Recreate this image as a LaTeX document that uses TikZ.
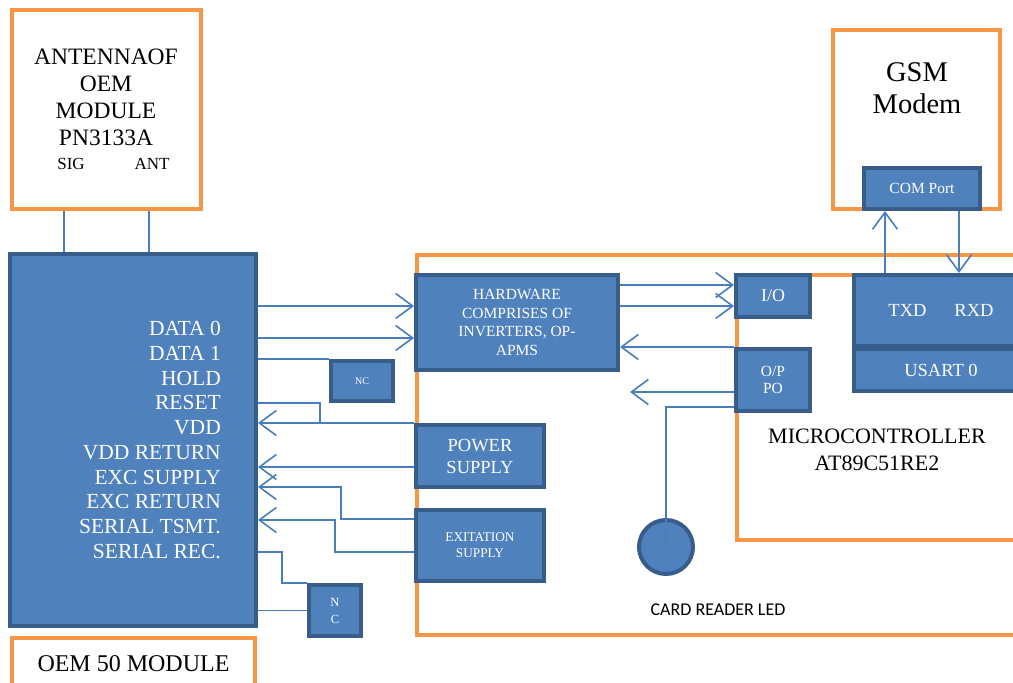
\documentclass[tikz,border=0pt]{standalone}
\usepackage{fontspec}
\setmainfont{Liberation Serif}
\newfontfamily\calib{Carlito}
\usetikzlibrary{arrows.meta}
\definecolor{bfill}{HTML}{4F81BD}
\definecolor{bdark}{HTML}{385D8A}
\definecolor{oline}{HTML}{F79646}
\definecolor{cline}{HTML}{4A7EBB}
\tikzset{
  blk/.style={shape=rectangle,draw=bdark,fill=bfill,line width=4pt,text=white,inner sep=0pt,align=center},
  obox/.style={shape=rectangle,draw=oline,line width=4.5pt,fill=white,inner sep=0pt,align=center},
  wire/.style={draw=cline,line width=1.6pt},
  arr/.style={wire,-{Straight Barb[length=17pt,width=25pt]}},
  fs/.style={font=\fontsize{#1}{#1}\selectfont}
}
\begin{document}
\begin{tikzpicture}[x=1pt,y=-1pt]
                \useasboundingbox (0,0) rectangle (1013,683);

                % frames
                \node[obox,minimum width=611,minimum height=380] (frame) at (722.5,445) {};
                \node[obox,minimum width=291,minimum height=265] (mcu) at (882.5,407.5) {};
                \node[obox,minimum width=189,minimum height=199] (ant) at (106.5,109.5) {};
                \node[obox,minimum width=243,minimum height=52,fs=24] (oem50) at (133.5,664) {OEM 50 MODULE};
                \node[obox,minimum width=167,minimum height=179] (gsm) at (916.5,119.5) {};

                % texts
                \node[align=center,font=\fontsize{23.5}{27}\selectfont] (anttext) at (106,97.5) {ANTENNAOF\\OEM\\MODULE\\PN3133A};
                \node[fs=17] (sig) at (71,164) {SIG};
                \node[fs=17] (antlbl) at (152,164) {ANT};
                \node[align=center,font=\fontsize{28.5}{32}\selectfont] (gsmtext) at (917,88) {GSM\\Modem};
                \node[align=center,font=\fontsize{22}{27}\selectfont] (mcutext) at (877,449.5) {MICROCONTROLLER\\AT89C51RE2};
                \node[font=\calib\fontsize{18}{20}\selectfont] (ledtext) at (718,610) {CARD READER LED};

                % blocks
                \node[blk,minimum width=246,minimum height=372] (oem) at (133,440) {};
                \node[text=white,align=right,anchor=east,inner sep=0pt,font=\fontsize{21.5}{24.67}\selectfont] (pins) at (221,440)
                  {DATA 0\\DATA 1\\HOLD\\RESET\\VDD\\VDD RETURN\\EXC SUPPLY\\EXC RETURN\\SERIAL TSMT.\\SERIAL REC.};
                \node[blk,minimum width=202,minimum height=95,font=\fontsize{15.5}{18.5}\selectfont] (hw) at (517,322.5) {HARDWARE\\COMPRISES OF\\INVERTERS, OP-\\APMS};
                \node[blk,minimum width=74,minimum height=42,fs=18] (io) at (773,296) {I/O};
                \node[blk,minimum width=74,minimum height=62,font=\fontsize{15.5}{17}\selectfont] (op) at (773,380) {O/P\\PO};
                \node[blk,minimum width=174,minimum height=42,fs=18.5] (usart) at (941,370) {USART 0};
                \node[blk,minimum width=174,minimum height=71,fs=18.5] (txrx) at (941,310.5) {TXD\hspace{28pt}RXD};
                \node[blk,minimum width=116,minimum height=41,fs=15.5] (com) at (922,188.5) {COM Port};
                \node[blk,minimum width=128,minimum height=62,font=\fontsize{18.5}{22}\selectfont] (ps) at (480,456) {POWER\\SUPPLY};
                \node[blk,minimum width=128,minimum height=71,font=\fontsize{13.3}{16}\selectfont] (exc) at (480,545.5) {EXITATION\\SUPPLY};
                \node[blk,minimum width=62,minimum height=40,fs=10] (nc1) at (362,381) {NC};
                \node[blk,minimum width=52,minimum height=51,font=\fontsize{12.5}{17}\selectfont] (nc2) at (335,610.5) {N\\C};
                \node[blk,shape=circle,minimum size=54] (led) at (666,547) {};

                % connectors
                \coordinate (rj) at (320,423);
                \coordinate (opfree) at (630,392);
                \draw [wire] (ant.south -| 64,0) -- (oem.north -| 64,0);
                \draw [wire] (ant.south -| 149,0) -- (oem.north -| 149,0);
                \draw [arr] (oem.east |- 0,306) -- (hw.west |- 0,306);
                \draw [arr] (oem.east |- 0,338) -- (hw.west |- 0,338);
                \draw [wire] (oem.east |- nc1.north) -- (nc1.north west);
                \draw [wire] (oem.east |- 0,403) -| (rj);
                \draw [arr] (ps.north west) -- (oem.east |- ps.north);
                \draw [arr] (ps.west |- 0,467) -- (oem.east |- 0,467);
                \draw [arr] (exc.west |- 0,519) -- (341,519) |- (oem.east |- 0,487);
                \draw [arr] (exc.west |- 0,552) -- (335,552) |- (oem.east |- 0,520);
                \draw [wire] (oem.east |- 0,552) -| (282,583) -- (nc2.north west);
                \draw [wire] (oem.east |- nc2.west) -- (nc2.west);
                \draw [arr] (hw.east |- 0,285) -- (io.west |- 0,285);
                \draw [arr] (hw.east |- 0,306) -- (io.west |- 0,306);
                \draw [arr] (op.north west) -- (hw.east |- op.north);
                \draw [arr] (op.west |- opfree) -- (opfree);
                \draw [wire] (op.west |- 0,407) -| (led.center);
                \draw [arr] (txrx.north -| 885,0) -- (com.south -| 885,0);
                \draw [arr] (com.south -| 959,0) -- (txrx.north -| 959,0);
            \end{tikzpicture}
\end{document}
